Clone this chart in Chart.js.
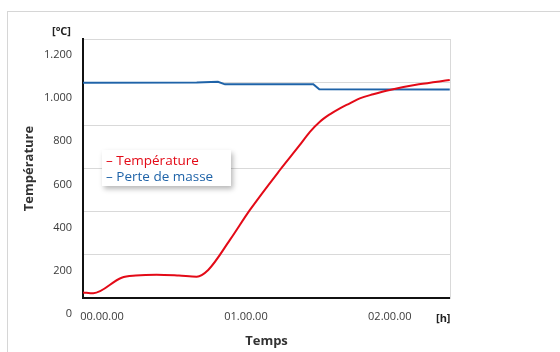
<!DOCTYPE html>
<html>
<head>
<meta charset="utf-8">
<script src="https://cdn.jsdelivr.net/npm/chart.js@4/dist/chart.umd.min.js"></script>
<style>
  html, body { margin: 0; padding: 0; background: #fff; }
  #wrap { position: relative; width: 560px; height: 352px; overflow: hidden; font-family: "Open Sans", sans-serif; }
  #frame { position: absolute; left: 7px; top: 11px; right: -5px; bottom: -5px; border-left: 1px solid #d6d6d6; border-top: 1px solid #d6d6d6; }
  canvas { position: absolute; left: 0; top: 0; }
  .unit { position: absolute; font-weight: 700; font-size: 11px; color: #222; line-height: 14px; }
  #legend { position: absolute; left: 102px; top: 150px; width: 129px; height: 36px; background: #fff;
            box-shadow: 2px 3px 5px rgba(0,0,0,0.28); font-size: 13.5px; line-height: 15.5px; padding: 3px 0 0 4px; box-sizing: border-box; white-space: nowrap; }
</style>
</head>
<body>
<div id="wrap">
  <div id="frame"></div>
  <canvas id="c" width="560" height="352"></canvas>
  <div class="unit" style="left:52px; top:24px;">[°C]</div>
  <div class="unit" style="left:436px; top:311px;">[h]</div>
  <div id="legend">
    <div style="color:#e30a17">– Température</div>
    <div style="color:#1f63a8">– Perte de masse</div>
  </div>
</div>
<script>
// time in minutes, temperature in °C
const tempTime = [0, 4.3, 16.1, 22, 30.7, 40, 47.4, 52.2, 61.25, 69.6, 82.1, 90.4, 94.6, 98.75, 102.9, 107.1, 111.25, 115.4, 121, 127.9, 140, 152.9];
const tempValues = [26, 22, 94, 104, 108, 104, 99, 130, 269, 408, 593, 709, 770, 817, 851, 879, 902, 925, 944, 964, 990, 1010];
const massTime = [0, 47.4, 56.25, 59.2, 96, 98.5, 152.9];
const massValues = [997, 998, 1002, 990, 990, 967, 966];
const xTicks = [0, 60, 120];
const xTickLabels = ["00.00.00", "01.00.00", "02.00.00"];
const yTicks = [0, 200, 400, 600, 800, 1000, 1200];
const yTickLabels = ["0", "200", "400", "600", "800", "1.000", "1.200"];

const toPts = (xs, ys) => xs.map((x, i) => ({x: x, y: ys[i]}));

new Chart(document.getElementById('c'), {
  type: 'line',
  data: {
    datasets: [
      { label: 'Température', data: toPts(tempTime, tempValues), borderColor: '#e30a17', borderWidth: 2,
        pointRadius: 0, cubicInterpolationMode: 'monotone', fill: false },
      { label: 'Perte de masse', data: toPts(massTime, massValues), borderColor: '#1f63a8', borderWidth: 2,
        pointRadius: 0, tension: 0, fill: false }
    ]
  },
  options: {
    responsive: false,
    animation: false,
    devicePixelRatio: 1,
    layout: { padding: { top: 39, right: 110, left: 0, bottom: 0 } },
    plugins: { legend: { display: false }, tooltip: { enabled: false } },
    scales: {
      x: {
        type: 'linear', min: 0, max: 153,
        afterFit: s => { s.height = 54; },
        afterBuildTicks: s => { s.ticks = xTicks.map(v => ({value: v})); },
        grid: { display: false, drawTicks: false },
        border: { display: true, color: '#111', width: 2 },
        ticks: {
          autoSkip: false, maxRotation: 0, padding: 12, labelOffset: 19,
          color: '#3a3a3a', font: { family: 'Open Sans', size: 11 },
          callback: (v) => { const i = xTicks.indexOf(v); return i >= 0 ? xTickLabels[i] : ''; }
        },
        title: { display: true, text: 'Temps', color: '#333', font: { family: 'Open Sans', size: 13, weight: 'bold' },
                 padding: { top: 0, bottom: 3 } }
      },
      y: {
        min: 0, max: 1200,
        afterFit: s => { s.width = 83; },
        afterBuildTicks: s => { s.ticks = yTicks.map(v => ({value: v})); },
        grid: { color: '#d9d9d9', lineWidth: 1, drawTicks: false },
        border: { display: true, color: '#111', width: 2 },
        ticks: {
          padding: 11, labelOffset: 16, color: '#3a3a3a', font: { family: 'Open Sans', size: 11 },
          callback: (v) => { const i = yTicks.indexOf(v); return i >= 0 ? yTickLabels[i] : ''; }
        },
        title: { display: true, text: 'Température', color: '#333', font: { family: 'Open Sans', size: 13, weight: 'bold' },
                 padding: { top: 21, bottom: 0 } }
      },
      y2: {
        position: 'right', min: 0, max: 1200,
        afterFit: s => { s.width = 0; },
        grid: { display: false, drawTicks: false },
        ticks: { display: false },
        border: { display: true, color: '#d9d9d9', width: 1 }
      }
    }
  }
});
</script>
</body>
</html>
